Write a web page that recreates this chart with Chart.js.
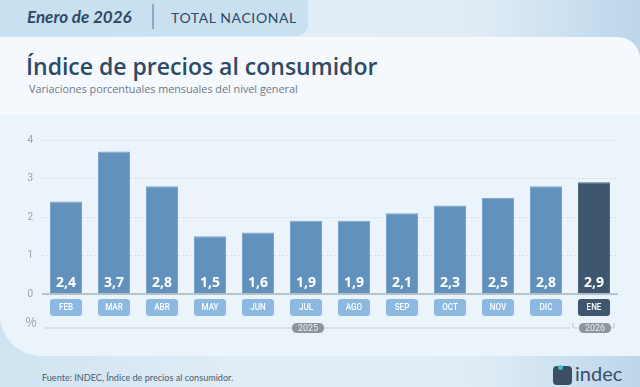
<!DOCTYPE html>
<html><head><meta charset="utf-8">
<script src="https://cdn.jsdelivr.net/npm/chart.js@4.4.1/dist/chart.umd.min.js"></script>
<style>
html,body{margin:0;padding:0;}
body{width:640px;height:387px;position:relative;overflow:hidden;font-family:Lato,"Open Sans",sans-serif;
 background:linear-gradient(90deg,#cfe3f1 0%,#e2eef7 40%,#dfecf6 75%,#bcd6ea 100%);}
#hdr{position:absolute;left:0;top:0;width:308px;height:36px;background:#c9e0f0;border-bottom-right-radius:12px;}
#hdr .d{position:absolute;left:27px;top:6px;font-size:17px;font-weight:700;font-style:italic;color:#2e4a64;}
#hdr .sep{position:absolute;left:152px;top:4px;width:2px;height:25px;background:#8ea8bd;}
#hdr .t{position:absolute;left:171px;top:9px;font-size:14px;color:#2e4a64;letter-spacing:0.6px;}
#card{position:absolute;left:0;top:37px;width:640px;height:319px;background:#f5f9fd;border-top-right-radius:22px;border-bottom-left-radius:42px;overflow:hidden;}
#title{position:absolute;left:26px;top:13px;font-family:"Open Sans",sans-serif;font-size:23px;font-weight:600;color:#2e4a64;}
#sub{position:absolute;left:29px;top:44px;font-family:"Open Sans",sans-serif;font-size:10.8px;color:#6a7886;}
#panel{position:absolute;left:0;top:78px;width:640px;height:241px;background:#ebf3fb;}
#foot{position:absolute;left:42px;top:372px;font-size:9.1px;color:#4b5b6b;}
#logo{position:absolute;left:553px;top:364px;}
#logo .ic{position:absolute;left:0;top:2px;width:19px;height:19px;background:#3b4f63;border-radius:4px;}
#logo .dot{position:absolute;left:5px;top:1px;width:5px;height:5px;background:#3fc4c9;border-radius:50%;}
#logo .txt{position:absolute;left:22px;top:-3px;font-size:20px;color:#3b4f63;font-weight:400;}
canvas{position:absolute;left:0;top:115px;}
</style></head>
<body>
<div id="hdr"><span class="d">Enero de 2026</span><div class="sep"></div><span class="t">TOTAL NACIONAL</span></div>
<div id="card">
 <div id="title">Índice de precios al consumidor</div>
 <div id="sub">Variaciones porcentuales mensuales del nivel general</div>
 <div id="panel"></div>
</div>
<canvas id="c" width="640" height="240"></canvas>
<div id="foot">Fuente: INDEC, Índice de precios al consumidor.</div>
<div id="logo"><div class="ic"></div><div class="dot"></div><span class="txt">indec</span></div>
<script>
const months = ["FEB","MAR","ABR","MAY","JUN","JUL","AGO","SEP","OCT","NOV","DIC","ENE"];
const values = [2.4,3.7,2.8,1.5,1.6,1.9,1.9,2.1,2.3,2.5,2.8,2.9];
const labelsText = ["2,4","3,7","2,8","1,5","1,6","1,9","1,9","2,1","2,3","2,5","2,8","2,9"];
const years = ["2025","2026"];
const yearSpans = [[0,10],[11,11]];
const yTicks = [0,1,2,3,4];

const barColors = months.map((m,i)=> i===months.length-1 ? '#3e566e' : '#6391bd');
const boxColors = months.map((m,i)=> i===months.length-1 ? '#3e566e' : '#8db8e2');

function rr(ctx,x,y,w,h,r){ctx.beginPath();ctx.moveTo(x+r,y);ctx.lineTo(x+w-r,y);ctx.quadraticCurveTo(x+w,y,x+w,y+r);ctx.lineTo(x+w,y+h-r);ctx.quadraticCurveTo(x+w,y+h,x+w-r,y+h);ctx.lineTo(x+r,y+h);ctx.quadraticCurveTo(x,y+h,x,y+h-r);ctx.lineTo(x,y+r);ctx.quadraticCurveTo(x,y,x+r,y);ctx.closePath();}

const deco = {
 id:'deco',
 afterDatasetsDraw(chart){
  const ctx=chart.ctx, xs=chart.scales.x, ys=chart.scales.y, ca=chart.chartArea;
  const y0=ys.getPixelForValue(0);
  ctx.save();
  ctx.strokeStyle='#aab3bc';ctx.lineWidth=1.5;ctx.beginPath();ctx.moveTo(ca.left,y0);ctx.lineTo(ca.right,y0);ctx.stroke();
  const meta=chart.getDatasetMeta(0);
  ctx.fillStyle='#ffffff';ctx.font='700 14px "Open Sans", sans-serif';ctx.textAlign='center';ctx.textBaseline='middle';
  meta.data.forEach((b,i)=>{ctx.fillText(labelsText[i],b.x,y0-11);});
  meta.data.forEach((b,i)=>{
   const w=b.width;ctx.fillStyle=boxColors[i];rr(ctx,b.x-w/2,y0+5,w,17,3);ctx.fill();
   ctx.fillStyle='#ffffff';ctx.font='500 9px Roboto, sans-serif';
   ctx.save();ctx.translate(b.x,y0+14);ctx.scale(0.9,1);ctx.fillText(months[i],0,0);ctx.restore();
  });
  ctx.fillStyle='#a3abb3';ctx.font='14px "Open Sans", sans-serif';ctx.textAlign='center';ctx.fillText('%',31,y0+29);
  const ly=y0+34;
  ctx.strokeStyle='#c5cdd5';ctx.lineWidth=1.2;
  yearSpans.forEach((sp,k)=>{
   const a=meta.data[sp[0]], z=meta.data[sp[1]];
   let x1, x2;
   if(k===0){x1=ca.left+3; x2=z.x+z.width/2+8;}
   else{x1=a.x-a.width/2-5; x2=z.x+z.width/2+4;}
   const cx=(a.x+z.x)/2 + (k===0?2:1);
   ctx.beginPath();ctx.moveTo(x1,ly);ctx.lineTo(x2,ly);ctx.stroke();
   if(k===1){ctx.beginPath();ctx.moveTo(x1,ly-5);ctx.lineTo(x1,ly);ctx.moveTo(x2,ly-5);ctx.lineTo(x2,ly);ctx.stroke();}
   const pw=32,ph=10;
   ctx.fillStyle='#8a959e';rr(ctx,cx-pw/2,ly-ph/2,pw,ph,5);ctx.fill();
   ctx.fillStyle='#e9edf0';ctx.font='9px Roboto, sans-serif';ctx.fillText(years[k],cx,ly+0.5);
  });
  ctx.restore();
 }
};

new Chart(document.getElementById('c'),{
 type:'bar',
 data:{labels:months,datasets:[{data:values,backgroundColor:barColors,borderColor:barColors.map(c=>c==='#3e566e'?'#52687e':'#7ea4c8'),borderWidth:{top:1,left:1,right:1,bottom:0},barPercentage:0.667,categoryPercentage:1}]},
 options:{
  responsive:false,animation:false,devicePixelRatio:1,
  layout:{padding:{left:0,right:22,top:25,bottom:61}},
  plugins:{legend:{display:false},tooltip:{enabled:false}},
  scales:{
   x:{grid:{display:false},border:{display:false},ticks:{display:false},afterFit(s){s.height=0;}},
   y:{min:0,max:4,afterFit(s){s.width=42;},
      afterBuildTicks(s){s.ticks=yTicks.map(v=>({value:v}));},
      ticks:{color:'#9aa3ab',font:{size:10,family:'Roboto'},padding:9,callback:v=>String(v)},
      grid:{color:'#d6dee7',lineWidth:1,drawTicks:false},
      border:{display:false,dash:[2,2]}}
  }
 },
 plugins:[deco]
});
</script>
</body></html>
